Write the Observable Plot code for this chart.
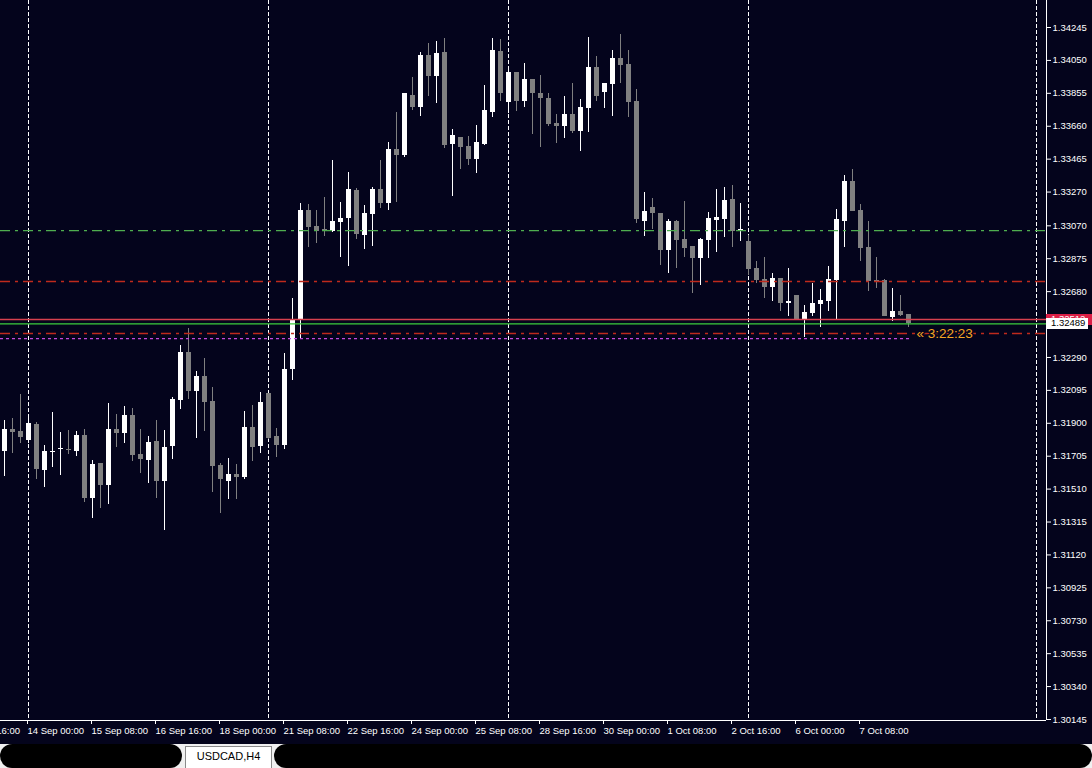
<!DOCTYPE html>
<html><head><meta charset="utf-8">
<script src="https://cdn.jsdelivr.net/npm/d3@7"></script>
<script src="https://cdn.jsdelivr.net/npm/@observablehq/plot@0.6"></script>
<style>
html,body{margin:0;padding:0;background:#04041c;width:1092px;height:768px;overflow:hidden;font-family:"Liberation Sans",Arial,sans-serif;}
#chart svg{display:block}
#tabs{position:relative;height:24px;background:#f0f0f0;overflow:hidden}
.pill{position:absolute;background:#000;border-radius:12px;}
.tab{position:absolute;left:185px;top:2px;width:87px;height:24px;background:#fff;border:1px solid #8a8a8a;box-sizing:border-box;font-size:11px;color:#000;text-align:center;line-height:19px;}
</style></head><body>
<div id="chart"></div>
<div id="tabs">
  <div class="pill" style="left:0;top:0;width:182px;height:24px"></div>
  <div class="tab">USDCAD,H4</div>
  <div class="pill" style="left:274px;top:0;width:818px;height:24px"></div>
</div>
<script>
// ---- data: USDCAD H4 bars, index 0 = 14 Sep 00:00 ----
const barIndex = d3.range(-3, 111);
const open = [1.31733,1.31863,1.31851,1.31798,1.31893,1.31620,1.31727,1.31745,1.31745,1.31733,
1.31828,1.31454,1.31662,1.31531,1.31863,1.31840,1.31946,1.31715,1.31680,1.31792,
1.31555,1.31762,1.32035,1.32319,1.32088,1.32177,1.32029,1.31650,1.31555,1.31597,
1.31579,1.31875,1.31762,1.32077,1.31822,1.31768,1.32219,1.32515,1.33161,1.33066,
1.33048,1.33036,1.33090,1.33113,1.33279,1.33013,1.33137,1.33285,1.33202,1.33522,
1.33487,1.33842,1.33771,1.34079,1.33955,1.34097,1.33552,1.33593,1.33540,1.33463,
1.33552,1.33741,1.34103,1.33801,1.33978,1.33807,1.33937,1.33854,1.33824,1.33676,
1.33658,1.33730,1.33629,1.33765,1.34008,1.33860,1.33907,1.34061,1.34026,1.33807,
1.33096,1.33179,1.33143,1.32924,1.33096,1.32989,1.32947,1.32876,1.32983,1.33102,
1.33107,1.33226,1.33036,1.32977,1.32817,1.32752,1.32705,1.32758,1.32610,1.32657,
1.32515,1.32551,1.32604,1.32622,1.32746,1.33096,1.33333,1.33161,1.32942,1.32746,
1.32746,1.32527,1.32562,1.32545];
const high = [1.31917,1.31928,1.32071,1.31934,1.31905,1.31768,1.31964,1.31845,1.31857,1.31851,
1.31863,1.31680,1.31662,1.32017,1.31952,1.31999,1.31988,1.31863,1.31822,1.31917,
1.31857,1.32053,1.32361,1.32462,1.32207,1.32284,1.32112,1.31662,1.31691,1.31656,
1.31970,1.32005,1.32082,1.32077,1.31869,1.32314,1.32639,1.33202,1.33196,1.33161,
1.33238,1.33457,1.33208,1.33386,1.33291,1.33190,1.33297,1.33457,1.33564,1.33741,
1.33854,1.33949,1.34097,1.34150,1.34162,1.34180,1.33641,1.33593,1.33599,1.33664,
1.33901,1.34180,1.34174,1.33996,1.33978,1.34032,1.33937,1.33961,1.33854,1.33730,
1.33836,1.33913,1.33818,1.34186,1.34073,1.33913,1.34109,1.34204,1.34109,1.33878,
1.33267,1.33232,1.33143,1.33107,1.33102,1.33214,1.32947,1.32995,1.33149,1.33285,
1.33297,1.33309,1.33202,1.33013,1.32859,1.32882,1.32788,1.32758,1.32817,1.32657,
1.32598,1.32728,1.32693,1.32829,1.33167,1.33368,1.33404,1.33196,1.33096,1.32882,
1.32752,1.32699,1.32657,1.32545];
const low = [1.31585,1.31721,1.31780,1.31780,1.31567,1.31520,1.31638,1.31591,1.31715,1.31703,
1.31431,1.31336,1.31395,1.31419,1.31757,1.31780,1.31674,1.31603,1.31543,1.31454,
1.31265,1.31685,1.31982,1.32041,1.31810,1.31851,1.31490,1.31366,1.31448,1.31448,
1.31567,1.31674,1.31721,1.31804,1.31697,1.31745,1.32154,1.32402,1.32942,1.32965,
1.33007,1.33030,1.32882,1.32829,1.32989,1.32930,1.32947,1.33173,1.33161,1.33208,
1.33475,1.33753,1.33718,1.33836,1.33795,1.33528,1.33244,1.33404,1.33427,1.33380,
1.33546,1.33712,1.33807,1.33736,1.33747,1.33771,1.33611,1.33534,1.33658,1.33558,
1.33587,1.33617,1.33510,1.33623,1.33807,1.33765,1.33718,1.33913,1.33712,1.33084,
1.33007,1.33048,1.32835,1.32788,1.32817,1.32882,1.32669,1.32716,1.32876,1.32912,
1.33001,1.32942,1.32977,1.32776,1.32728,1.32639,1.32622,1.32562,1.32533,1.32515,
1.32408,1.32533,1.32468,1.32562,1.32509,1.32942,1.33155,1.32859,1.32681,1.32699,
1.32533,1.32503,1.32533,1.32468];
const close = [1.31863,1.31845,1.31816,1.31899,1.31626,1.31733,1.31733,1.31751,1.31739,1.31828,
1.31454,1.31656,1.31531,1.31863,1.31840,1.31946,1.31709,1.31685,1.31786,1.31555,
1.31757,1.32041,1.32319,1.32088,1.32177,1.32023,1.31644,1.31567,1.31597,1.31579,
1.31875,1.31757,1.32023,1.31810,1.31768,1.32219,1.32515,1.33161,1.33060,1.33036,
1.33036,1.33096,1.33113,1.33285,1.33019,1.33143,1.33285,1.33202,1.33522,1.33487,
1.33854,1.33771,1.34079,1.33955,1.34091,1.33546,1.33605,1.33534,1.33463,1.33564,
1.33753,1.34109,1.33854,1.33978,1.33807,1.33937,1.33854,1.33824,1.33670,1.33658,
1.33730,1.33629,1.33771,1.34008,1.33836,1.33913,1.34061,1.34020,1.33801,1.33107,
1.33155,1.33143,1.32924,1.33096,1.32983,1.32936,1.32876,1.32989,1.33113,1.33119,
1.33220,1.33036,1.33048,1.32811,1.32746,1.32705,1.32758,1.32610,1.32622,1.32515,
1.32556,1.32610,1.32628,1.32752,1.33107,1.33333,1.33155,1.32936,1.32740,1.32740,
1.32533,1.32562,1.32539,1.32489];

const xLabelIdx = [-8,0,8,16,24,32,40,48,56,64,72,80,88,96,104];
const xLabels = ["10 Sep 16:00","14 Sep 00:00","15 Sep 08:00","16 Sep 16:00","18 Sep 00:00","21 Sep 08:00","22 Sep 16:00","24 Sep 00:00","25 Sep 08:00","28 Sep 16:00","30 Sep 00:00","1 Oct 08:00","2 Oct 16:00","6 Oct 00:00","7 Oct 08:00"];
const yTicks = [1.34245,1.34050,1.33855,1.33660,1.33465,1.33270,1.33070,1.32875,1.32680,1.32290,1.32095,1.31900,1.31705,1.31510,1.31315,1.31120,1.30925,1.30730,1.30535,1.30340,1.30145];
const separators = [0, 30, 60, 90, 126];
const greenLevel = 1.33042;
const redLevels = [1.32740, 1.32432];
const askPrice = 1.32515, askLabel = "1.32512";
const bidPrice = 1.32489, bidLabel = "1.32489";
const pendingPrice = 1.32402;
const timerLabel = "« 3:22:23";

// ---- chart ----
const BG = "#04041c", BULL = "#ffffff", BEAR = "#808080";
const xDomain = [-3.5, 127.25];
const yDomain = [1.30139, 1.34405];
const candles = barIndex.map((k, i) => ({k, o: open[i], h: high[i], l: low[i], c: close[i]}));
const col = d => d.c >= d.o ? BULL : BEAR;
const minBody = 0.00006;
const labelMap = new Map(xLabelIdx.map((k, i) => [k, xLabels[i]]));
const lastK = barIndex[barIndex.length - 1];
const dashDot = "10,5,3,5";

const plot = Plot.plot({
  width: 1092, height: 744,
  marginTop: 0, marginBottom: 24, marginLeft: 0, marginRight: 46,
  x: {type: "linear", domain: xDomain},
  y: {type: "linear", domain: yDomain},
  style: {background: BG, color: "#fff", fontFamily: "'Liberation Sans', Arial, sans-serif", fontSize: "9.5px"},
  marks: [
    Plot.ruleX(separators, {stroke: "#ffffff", strokeDasharray: "4,2", shapeRendering: "crispEdges"}),
    Plot.ruleX(candles, {x: "k", y1: "l", y2: "h", stroke: col, shapeRendering: "crispEdges"}),
    Plot.rect(candles, {
      x1: d => d.k - 0.25, x2: d => d.k + 0.375,
      y1: d => Math.min(d.o, d.c),
      y2: d => Math.max(Math.max(d.o, d.c), Math.min(d.o, d.c) + minBody),
      fill: col, shapeRendering: "crispEdges"
    }),
    Plot.ruleY([greenLevel], {stroke: "#4fae4f", strokeWidth: 1.2, strokeDasharray: dashDot}),
    Plot.ruleY(redLevels, {stroke: "#bf2a1c", strokeWidth: 1.5, strokeDasharray: dashDot}),
    Plot.ruleY([askPrice], {stroke: "#d8404e", strokeWidth: 1.3}),
    Plot.ruleY([bidPrice], {stroke: "#3ccc3c", strokeWidth: 1.3}),
    Plot.ruleY([pendingPrice], {x1: xDomain[0], x2: lastK + 0.25, stroke: "#c448dc", strokeWidth: 1.2, strokeDasharray: "3,3"}),
    Plot.text([{k: lastK + 1, p: redLevels[1], t: timerLabel}], {x: "k", y: "p", text: "t", fill: "#f5a623", stroke: BG, strokeWidth: 3, textAnchor: "start", fontSize: 13.5}),
    Plot.ruleX([xDomain[1]], {stroke: "#ffffff", shapeRendering: "crispEdges"}),
    Plot.ruleY([yDomain[0]], {stroke: "#ffffff", shapeRendering: "crispEdges"}),
    Plot.axisY(yTicks, {anchor: "right", tickSize: 4, tickPadding: 2, tickFormat: d => d.toFixed(5), color: "#ffffff", label: null}),
    Plot.axisX(xLabelIdx, {anchor: "bottom", tickSize: 4, tickPadding: 3, dx: -1, tickFormat: k => labelMap.get(k), textAnchor: "start", color: "#ffffff", label: null})
  ]
});
document.getElementById("chart").appendChild(plot);

// price labels on the right axis, placed with the plot's own scales
const ys = plot.scale("y"), xs = plot.scale("x");
const xr = xs.apply(xDomain[1]);
const g = d3.select(plot).append("g").attr("font-size", 9.5).attr("text-anchor", "start");
const ya = ys.apply(askPrice), yb = ys.apply(bidPrice);
g.append("rect").attr("x", xr).attr("y", Math.round(ya) - 5).attr("width", 1092 - xr).attr("height", 11).attr("fill", "#dc1e46");
g.append("text").attr("x", xr + 5).attr("y", ya).attr("dy", "0.32em").attr("fill", "#fff").text(askLabel);
g.append("rect").attr("x", xr).attr("y", Math.round(yb) - 5).attr("width", 42).attr("height", 11).attr("fill", "#ffffff");
g.append("text").attr("x", xr + 5).attr("y", yb).attr("dy", "0.32em").attr("fill", "#000").text(bidLabel);
</script>
</body></html>
